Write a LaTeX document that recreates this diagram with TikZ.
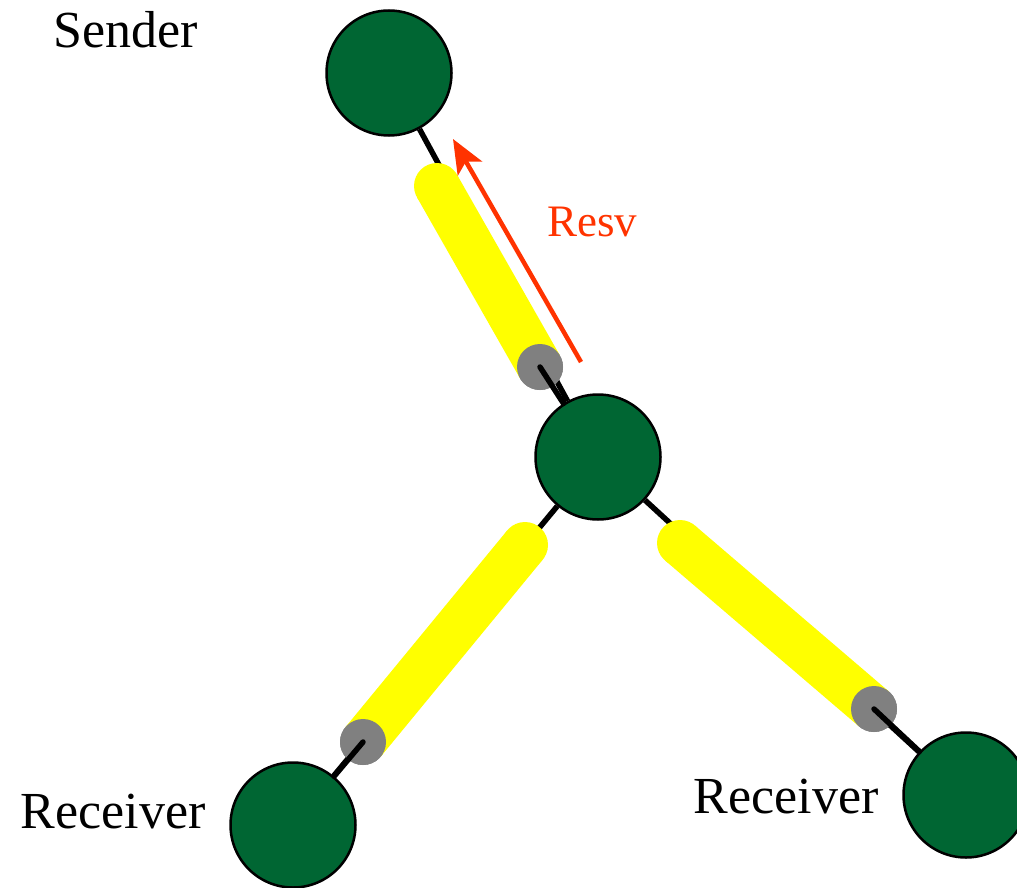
\documentclass[tikz,border=0pt]{standalone}
\usepackage{fontspec}
\setmainfont{Liberation Serif}
\usetikzlibrary{arrows.meta}
\definecolor{nodegreen}{HTML}{006633}
\definecolor{resvred}{HTML}{FF3300}
\definecolor{dotgray}{HTML}{808080}
\definecolor{tubeyellow}{HTML}{FFFF00}
\begin{document}
\begin{tikzpicture}[x=1pt,y=-1pt,
  router/.style={circle,draw=black,line width=2.5pt,fill=nodegreen,minimum size=125pt,inner sep=0pt},
  gdot/.style={circle,fill=dotgray,minimum size=46pt,inner sep=0pt},
  link/.style={draw=black,line width=5.5pt},
  tube/.style={draw=tubeyellow,line width=46pt,line cap=butt},
  lbl/.style={font=\fontsize{52}{60}\selectfont,inner sep=0pt}]
\useasboundingbox (0,0) rectangle (1017,888);
% routers
\node[router] (s) at (389,73) {};
\node[router] (c) at (598,457) {};
\node[router] (r1) at (293,825) {};
\node[router] (r2) at (966,795) {};
% black links underneath
\draw[link] (s) -- (c);
\draw[link] (c) -- (r1);
\draw[link] (c) -- (r2);
% yellow tubes
\coordinate (y1) at (437,186);
\coordinate (y2) at (525,545);
\coordinate (y3) at (680,543);
\node[gdot] (g1) at (540,367) {};
\node[gdot] (g2) at (363,742) {};
\node[gdot] (g3) at (874,709) {};
\draw[tube] (y1) -- (g1.center);
\fill[tubeyellow] (y1) circle (23);
\draw[tube] (y2) -- (g2.center);
\fill[tubeyellow] (y2) circle (23);
\draw[tube] (y3) -- (g3.center);
\fill[tubeyellow] (y3) circle (23);
% gray dots on top
\node[gdot] at (g1) {};
\node[gdot] at (g2) {};
\node[gdot] at (g3) {};
% black segments on top
\draw[link,line cap=round] (g1.center) -- (c);
\draw[link,line cap=round] (g2.center) -- (r1);
\draw[link,line cap=round] (g3.center) -- (r2);
% Resv arrow
\coordinate (ra) at (581,362);
\coordinate (rb) at (453,139);
\draw[resvred,line width=4.5pt,-{Stealth[length=34pt,width=28pt,inset=8pt]}] (ra) -- (rb);
\node[text=resvred,font=\fontsize{45}{54}\selectfont,inner sep=0pt] (resv) at (592,222) {Resv};
% labels
\node[lbl] (ls) at (126,30) {Sender};
\node[lbl] (lr1) at (113,812) {Receiver};
\node[lbl] (lr2) at (786,797) {Receiver};
\end{tikzpicture}
\end{document}
